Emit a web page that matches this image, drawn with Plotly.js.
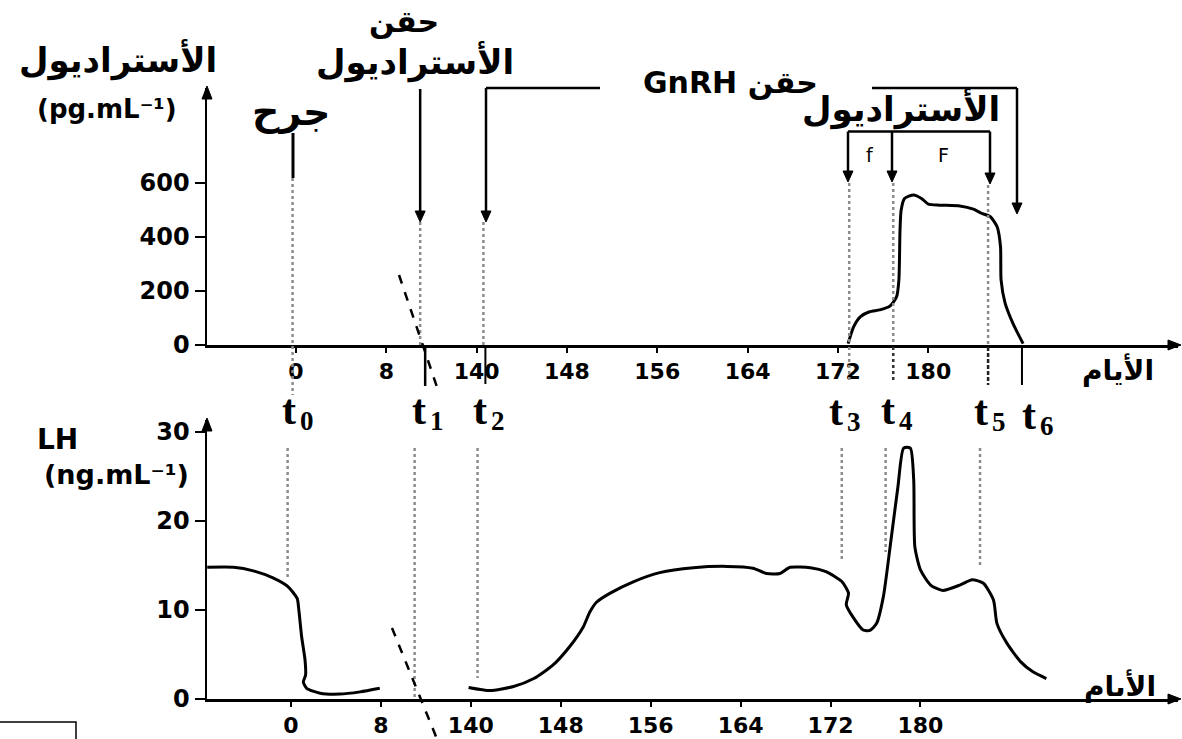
<!DOCTYPE html>
<html><head><meta charset="utf-8">
<script src="https://cdn.plot.ly/plotly-3.0.1.min.js"></script>
<style>html,body{margin:0;padding:0;background:#fff}</style>
</head><body><div id="chart" style="width:1182px;height:739px"></div>
<script>
// ---------------- data ----------------
const tickDays   = [0, 8, 140, 148, 156, 164, 172, 180];
const tickLabels = ['0', '8', '140', '148', '156', '164', '172', '180'];

const e2Ticks = [0, 200, 400, 600];
const lhTicks = [0, 10, 20, 30];

// estradiol (pg/mL) vs day
const e2Days   = [172.9, 173.4, 174.0, 174.8, 175.7, 176.6, 177.2, 177.4, 177.5, 177.6, 177.9, 178.7, 179.4, 180.0, 181.0, 182.8, 184.0, 184.7, 185.5, 186.1, 186.4, 186.45, 186.8, 187.5, 188.4];
const e2Values = [5, 68, 105, 123, 130, 144, 179, 241, 426, 500, 543, 556, 543, 522, 518, 515, 503, 488, 475, 438, 364, 241, 156, 80, 5];

// LH (ng/mL) before the axis break
const lhDaysBefore   = [-7.45, -5.1, -3.35, -1.6, -0.25, 0.55, 0.7, 0.95, 1.25, 1.3, 1.1, 1.4, 2.6, 4.35, 6.15, 7.9];
const lhValuesBefore = [14.8, 14.8, 14.4, 13.6, 12.6, 11.3, 10.0, 7.0, 4.4, 2.7, 1.9, 1.2, 0.65, 0.55, 0.8, 1.2];

// LH (ng/mL) after the axis break
const lhDaysAfter   = [139.8, 141.7, 143.8, 145.6, 147.3, 148.8, 150.0, 150.6, 151.2, 152.4, 154.5, 156.8, 159.8, 162.8, 165.1, 166.3, 167.5, 168.4, 170.2, 171.6, 173.0, 173.6, 173.4, 174.0, 174.9, 175.5, 176.1, 176.7, 177.3, 178.0, 178.5, 179.1, 179.4, 179.5, 180.0, 180.9, 182.0, 183.5, 184.6, 185.6, 186.5, 186.8, 187.7, 188.9, 190.0, 191.2];
const lhValuesAfter = [1.3, 0.95, 1.4, 2.3, 3.8, 5.9, 8.1, 9.8, 10.9, 11.9, 13.2, 14.2, 14.75, 14.9, 14.7, 14.1, 14.1, 14.8, 14.75, 14.3, 13.2, 11.9, 10.6, 9.2, 7.75, 7.7, 8.5, 11.5, 17.1, 23.9, 28.2, 28.2, 24.6, 17.1, 14.5, 12.8, 12.2, 12.8, 13.4, 13.0, 11.1, 8.5, 6.25, 4.2, 3.05, 2.3];

// time markers t0..t6 (day); t1 lies on the axis break
const markerIndex = ['0', '1', '2', '3', '4', '5', '6'];
const markerDays  = [-0.3, null, 140.6, 173.0, 176.9, 185.3, 188.3];

// ---------------- helpers ----------------
const BREAK_POS = 11;                    // axis position of the break (between 8 and 140)
function pos(d) { return d === null ? BREAK_POS : (d <= 8 ? d : d - 124); }
const W = 1182, H = 739, L = 207, R = 4, PW = W - L - R;
const fx = p => (p - L) / PW;            // pixel -> paper x
const fy = p => 1 - p / H;               // pixel -> paper y
const mPos = markerDays.map(pos);
const X1RANGE = [-7.88, 78.12], X2RANGE = [-7.47, 78.91];
const topPix = u => L + (u - X1RANGE[0]) / (X1RANGE[1] - X1RANGE[0]) * PW;

const AR = 'DejaVu Sans, sans-serif';
const SERIF = 'Liberation Serif, Times New Roman, serif';
const BLACK = '#000';
const GREY = '#8c8c8c';

// ---------------- traces ----------------
const lineStyle = {color: BLACK, width: 3, shape: 'spline', smoothing: 0.6};
const traces = [
  {x: e2Days.map(pos), y: e2Values, xaxis: 'x', yaxis: 'y', mode: 'lines', line: lineStyle, hoverinfo: 'skip'},
  {x: lhDaysBefore.map(pos), y: lhValuesBefore, xaxis: 'x2', yaxis: 'y2', mode: 'lines', line: lineStyle, hoverinfo: 'skip'},
  {x: lhDaysAfter.map(pos), y: lhValuesAfter, xaxis: 'x2', yaxis: 'y2', mode: 'lines', line: lineStyle, hoverinfo: 'skip'}
];

// ---------------- shapes ----------------
const shapes = [];
function vDot(xref, xp, y0, y1, color, dash, width) {
  shapes.push({type: 'line', xref: xref, yref: 'paper', x0: xp, x1: xp, y0: fy(y0), y1: fy(y1),
    line: {color: color || GREY, width: width || 2.5, dash: dash || 'dot'}});
}
function pLine(x0, y0, x1, y1, dash, width) {
  shapes.push({type: 'line', xref: 'paper', yref: 'paper', x0: fx(x0), x1: fx(x1), y0: fy(y0), y1: fy(y1),
    line: {color: BLACK, width: width || 2.5, dash: dash || 'solid'}});
}
function vOffset(xref, xp, dxPix, y0, y1, color, dash, width) {
  shapes.push({type: 'line', xref: xref, yref: 'paper', xsizemode: 'pixel', xanchor: xp, x0: dxPix, x1: dxPix,
    y0: fy(y0), y1: fy(y1), line: {color: color, width: width, dash: dash}});
}
function tri(p) { // p: array of 3 [px,py]
  const d = 'M' + p.map(q => fx(q[0]) + ',' + fy(q[1])).join(' L') + ' Z';
  shapes.push({type: 'path', xref: 'paper', yref: 'paper', path: d, fillcolor: BLACK, line: {color: BLACK, width: 1}});
}
function arrowDown(px, yTop, yTip) {
  pLine(px, yTop, px, yTip - 8, 'solid', 2.5);
  tri([[px - 5, yTip - 11], [px + 5, yTip - 11], [px, yTip]]);
}
// top panel guide lines
const topSpan = [[178, 395], [222, 345], [222, 345], [183, 345], [183, 345], [185, 345]];
topSpan.forEach((s, i) => vDot('x', mPos[i], s[0], s[1]));
vOffset('x', mPos[1], 5, 347, 386, BLACK, 'solid', 2.5);
vOffset('x', mPos[2], 2, 347, 384, BLACK, 'solid', 2);
vOffset('x', mPos[3], 0, 347, 382, GREY, 'dot', 2.5);
vOffset('x', mPos[4], 0, 347, 382, '#333', 'dot', 2.5);
vOffset('x', mPos[5], 0, 347, 385, '#222', '4px,2px', 2.5);
vOffset('x', mPos[6], 0, 347, 385, BLACK, 'solid', 2);
// bottom panel guide lines
const botSpan = [[448, 577], [448, 700], [448, 678], [448, 560], [448, 552], [448, 568]];
botSpan.forEach((s, i) => vDot('x2', mPos[i], s[0], s[1]));
// axis-break dashed strokes
pLine(399, 275, 438, 390, '9px,9px', 2.5);
pLine(392, 628, 437, 739, '9px,9px', 2.5);
// "wound" marker line
pLine(293, 133, 293, 178, 'solid', 3);
// axis arrowheads
tri([[202, 99], [212, 99], [207, 86]]);
tri([[202, 431], [212, 431], [207, 418]]);
tri([[1168, 340], [1168, 350], [1181, 345]]);
tri([[1168, 694], [1168, 704], [1181, 699]]);
// injection arrows
arrowDown(topPix(mPos[1]), 89, 222);
pLine(486, 88, 600, 88, 'solid', 2.5);
arrowDown(486, 88, 222);
pLine(872, 88, 1017, 88, 'solid', 2.5);
arrowDown(1017, 88, 214);
pLine(848, 131.5, 990, 131.5, 'solid', 2.5);
arrowDown(848, 131.5, 182);
arrowDown(892, 131.5, 182);
arrowDown(990, 131.5, 184);
// small box bottom-left
shapes.push({type: 'rect', xref: 'paper', yref: 'paper', x0: fx(-2), x1: fx(76), y0: fy(742), y1: fy(722),
  line: {color: BLACK, width: 1.5}});

// ---------------- annotations ----------------
const ann = [];
function txt(x, y, text, size, opts) {
  opts = opts || {};
  ann.push({xref: 'paper', yref: 'paper', x: fx(x), y: fy(y), text: text, showarrow: false,
    xanchor: 'center', yanchor: 'middle',
    font: {family: opts.family || AR, size: size, color: BLACK, weight: opts.weight || 'bold'}});
}
txt(118, 60, 'الأستراديول', 34);
txt(107, 109, '(pg.mL⁻¹)', 26);
txt(291, 112, 'جرح', 38);
txt(404, 21, 'حقن', 30);
txt(415, 62, 'الأستراديول', 34);
txt(730, 83, 'GnRH حقن', 30);
txt(901, 109, 'الأستراديول', 34);
txt(870, 155, 'f', 19, {weight: 'normal'});
txt(943, 155, 'F', 19, {weight: 'normal'});
txt(1118, 370, 'الأيام', 28);
txt(1120, 686, 'الأيام', 28);
txt(57, 440, 'LH', 28);
txt(116, 474, '(ng.mL⁻¹)', 27);

// t labels: letter + subscript index
const tLabelLeft = [281, 411, 472, 828, 880, 973, 1021];
const tLabelDy   = [0, 0, 0, 1, 0, 1, 5];
markerIndex.forEach((k, i) => {
  txt(tLabelLeft[i] + 8, 410 + tLabelDy[i], 't', 42, {family: SERIF});
  txt(tLabelLeft[i] + 26, 421 + tLabelDy[i], k, 27, {family: SERIF});
});

// ---------------- layout ----------------
const tickFont = {family: AR, size: 22, color: BLACK, weight: 'bold'};
const xCommon = {
  showline: true, linecolor: BLACK, linewidth: 2.5, showgrid: false, zeroline: false,
  ticks: 'outside', ticklen: 5, tickwidth: 2, tickcolor: BLACK,
  tickmode: 'array', tickvals: tickDays.map(pos), ticktext: tickLabels, tickfont: tickFont,
  domain: [0, 1], fixedrange: true
};
const yCommon = {
  showline: true, linecolor: BLACK, linewidth: 2.5, showgrid: false, zeroline: false,
  ticks: 'outside', ticklen: 10, tickwidth: 2, tickcolor: BLACK,
  tickfont: Object.assign({}, tickFont, {size: 24}),
  tickmode: 'array', fixedrange: true
};
const layout = {
  width: W, height: H,
  margin: {l: L, r: R, t: 0, b: 0},
  paper_bgcolor: '#fff', plot_bgcolor: 'rgba(0,0,0,0)',
  showlegend: false,
  xaxis: Object.assign({}, xCommon, {anchor: 'y', range: X1RANGE}),
  yaxis: Object.assign({}, yCommon, {anchor: 'x', domain: [fy(345), fy(88)], range: [0, (345 - 88) * 3.704],
    tickvals: e2Ticks, ticktext: e2Ticks.map(String)}),
  xaxis2: Object.assign({}, xCommon, {anchor: 'y2', range: X2RANGE}),
  yaxis2: Object.assign({}, yCommon, {anchor: 'x2', domain: [fy(699), fy(420)], range: [0, (699 - 420) / 8.9],
    tickvals: lhTicks, ticktext: lhTicks.map(String)}),
  shapes: shapes,
  annotations: ann
};

Plotly.newPlot('chart', traces, layout, {displayModeBar: false, staticPlot: true});
</script>
</body></html>
